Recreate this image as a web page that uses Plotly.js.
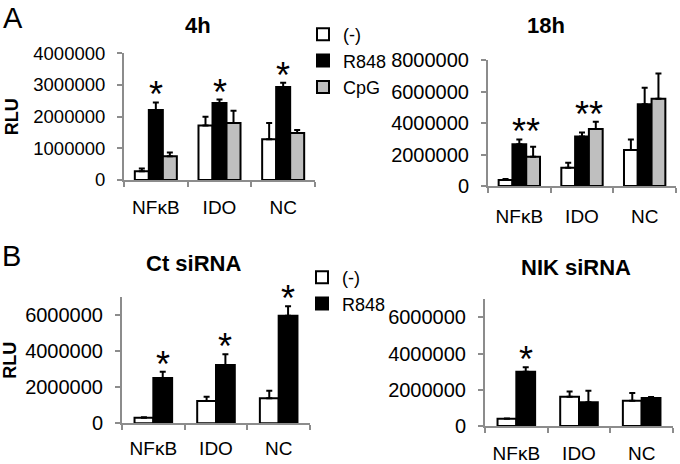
<!DOCTYPE html>
<html><head><meta charset="utf-8">
<script src="https://cdn.plot.ly/plotly-3.0.1.min.js"></script>
<style>html,body{margin:0;padding:0;background:#fff}#chart{width:680px;height:464px}</style>
</head><body><div id="chart"></div>
<script>
// ---------- data ----------
const categories = ['NFκB', 'IDO', 'NC'];
const seriesA = ['(-)', 'R848', 'CpG'];
const seriesB = ['(-)', 'R848'];
const panelTitles = ['4h', '18h', 'Ct siRNA', 'NIK siRNA'];
const yTitle = 'RLU';

// Panel A, 4h
const h4_none = [280000, 1720000, 1290000];
const h4_none_err = [80000, 280000, 510000];
const h4_r848 = [2210000, 2430000, 2940000];
const h4_r848_err = [240000, 110000, 130000];
const h4_cpg = [750000, 1800000, 1480000];
const h4_cpg_err = [120000, 390000, 100000];
const h4_r848_sig = [1, 1, 1];
const h4_cpg_sig = [0, 0, 0];

// Panel A, 18h
const h18_none = [380000, 1160000, 2290000];
const h18_none_err = [60000, 320000, 670000];
const h18_r848 = [2650000, 3150000, 5190000];
const h18_r848_err = [310000, 240000, 1050000];
const h18_cpg = [1860000, 3620000, 5540000];
const h18_cpg_err = [640000, 460000, 1610000];
const h18_r848_sig = [1, 1, 0];
const h18_cpg_sig = [1, 1, 0];

// Panel B, Ct siRNA
const ct_none = [310000, 1240000, 1390000];
const ct_none_err = [20000, 240000, 420000];
const ct_r848 = [2520000, 3240000, 5980000];
const ct_r848_err = [350000, 590000, 520000];
const ct_r848_sig = [1, 1, 1];

// Panel B, NIK siRNA
const nik_none = [400000, 1620000, 1400000];
const nik_none_err = [20000, 290000, 420000];
const nik_r848 = [3000000, 1310000, 1550000];
const nik_r848_err = [240000, 640000, 50000];
const nik_r848_sig = [1, 0, 0];

// ---------- styling ----------
const FONT = 'Liberation Sans, Arial, Helvetica, sans-serif';
const AXC = '#8c8c8c';
const fills = {'(-)': '#ffffff', 'R848': '#000000', 'CpG': '#bfbfbf'};
const W3 = 0.22, W2 = 0.30;

function bar(name, vals, errs, xa, ya, offset, width, showlegend, legend) {
  return {
    type: 'bar', name: name, x: categories, y: vals,
    xaxis: xa, yaxis: ya, offset: offset, width: width,
    marker: {color: fills[name], line: {color: '#000', width: 2}},
    error_y: {type: 'data', array: errs, arrayminus: errs.map(() => 0), symmetric: false,
              color: '#000', thickness: 2, width: 3},
    showlegend: showlegend, legend: legend, hoverinfo: 'skip'
  };
}

const data = [
  bar(seriesA[0], h4_none, h4_none_err, 'x', 'y', -1.5 * W3, W3, true, 'legend'),
  bar(seriesA[1], h4_r848, h4_r848_err, 'x', 'y', -0.5 * W3, W3, true, 'legend'),
  bar(seriesA[2], h4_cpg, h4_cpg_err, 'x', 'y', 0.5 * W3, W3, true, 'legend'),
  bar(seriesA[0], h18_none, h18_none_err, 'x2', 'y2', -1.5 * W3, W3, false, 'legend'),
  bar(seriesA[1], h18_r848, h18_r848_err, 'x2', 'y2', -0.5 * W3, W3, false, 'legend'),
  bar(seriesA[2], h18_cpg, h18_cpg_err, 'x2', 'y2', 0.5 * W3, W3, false, 'legend'),
  bar(seriesB[0], ct_none, ct_none_err, 'x3', 'y3', -W2, W2, true, 'legend2'),
  bar(seriesB[1], ct_r848, ct_r848_err, 'x3', 'y3', 0, W2, true, 'legend2'),
  bar(seriesB[0], nik_none, nik_none_err, 'x4', 'y4', -W2, W2, false, 'legend2'),
  bar(seriesB[1], nik_r848, nik_r848_err, 'x4', 'y4', 0, W2, false, 'legend2')
];

// asterisks
const annotations = [];
function stars(xa, ya, groups) {
  categories.forEach((c, i) => {
    let top = -Infinity;
    groups.forEach(g => { if (g.sig[i]) top = Math.max(top, g.vals[i] + g.errs[i]); });
    groups.forEach(g => {
      if (!g.sig[i]) return;
      annotations.push({xref: xa, yref: ya, x: i + g.center, y: top, text: '*',
        showarrow: false, xanchor: 'center', yanchor: 'bottom', yshift: -15,
        font: {family: FONT, size: 36, color: '#000'}});
    });
  });
}
stars('x', 'y', [{vals: h4_r848, errs: h4_r848_err, sig: h4_r848_sig, center: 0},
                 {vals: h4_cpg, errs: h4_cpg_err, sig: h4_cpg_sig, center: W3}]);
stars('x2', 'y2', [{vals: h18_r848, errs: h18_r848_err, sig: h18_r848_sig, center: 0},
                   {vals: h18_cpg, errs: h18_cpg_err, sig: h18_cpg_sig, center: W3}]);
stars('x3', 'y3', [{vals: ct_r848, errs: ct_r848_err, sig: ct_r848_sig, center: W2 / 2}]);
stars('x4', 'y4', [{vals: nik_r848, errs: nik_r848_err, sig: nik_r848_sig, center: W2 / 2}]);

function title(text, x, y) {
  annotations.push({xref: 'paper', yref: 'paper', x: x, y: y, text: text, showarrow: false,
    xanchor: 'center', yanchor: 'middle', font: {family: FONT, size: 22, color: '#000', weight: 'bold'}});
}
title(panelTitles[0], 198 / 680, 1 - 25 / 464);
title(panelTitles[1], 546 / 680, 1 - 25 / 464);
title(panelTitles[2], 193 / 680, 1 - 263 / 464);
title(panelTitles[3], 576 / 680, 1 - 267 / 464);
function letter(text, x, y, anchor) {
  annotations.push({xref: 'paper', yref: 'paper', x: x, y: y, text: text, showarrow: false,
    xanchor: 'center', yanchor: anchor, font: {family: FONT, size: 29, color: '#000'}});
}
letter('A', 12.5 / 680, 1, 'top');
letter('B', 11 / 680, 1 - 256 / 464, 'middle');

function xax(domain, anchor, fs, standoff) {
  return {domain: domain, anchor: anchor, type: 'category', range: [-0.5, 2.5],
    showline: true, linecolor: AXC, linewidth: 2, showgrid: false, zeroline: false,
    ticks: 'outside', tickson: 'boundaries', ticklen: 5, tickcolor: AXC, tickwidth: 2,
    ticklabelstandoff: standoff, tickfont: {family: FONT, size: fs, color: '#000'}, fixedrange: true};
}
function yax(domain, anchor, max, dtick, fs, withTitle) {
  const a = {domain: domain, anchor: anchor, range: [0, max], dtick: dtick, tick0: 0,
    tickformat: 'd', showline: true, linecolor: AXC, linewidth: 2, showgrid: false, zeroline: false,
    ticks: 'outside', ticklen: 5, tickcolor: AXC, tickwidth: 2, ticklabelstandoff: 8,
    tickfont: {family: FONT, size: fs, color: '#000'}, fixedrange: true, automargin: false};
  if (withTitle) a.title = {text: yTitle, standoff: 10, font: {family: FONT, size: 18, weight: 'bold', color: '#000'}};
  return a;
}

const layout = {
  width: 680, height: 464, margin: {l: 0, r: 0, t: 0, b: 0},
  paper_bgcolor: '#fff', plot_bgcolor: 'rgba(0,0,0,0)', barmode: 'overlay',
  font: {family: FONT, color: '#000'},
  xaxis: xax([124 / 680, 315 / 680], 'y', 19, 9),
  yaxis: yax([1 - 180 / 464, 1 - 53.3 / 464], 'x', 4000000, 1000000, 18.5, true),
  xaxis2: xax([488 / 680, 676 / 680], 'y2', 19, 12),
  yaxis2: yax([1 - 186 / 464, 1 - 60 / 464], 'x2', 8000000, 2000000, 20, false),
  xaxis3: xax([122 / 680, 310 / 680], 'y3', 19, 7),
  yaxis3: yax([1 - 423.3 / 464, 1 - 297.3 / 464], 'x3', 7000000, 2000000, 20, true),
  xaxis4: xax([485 / 680, 673 / 680], 'y4', 19, 9),
  yaxis4: yax([1 - 426 / 464, 1 - 299.3 / 464], 'x4', 7000000, 2000000, 20, false),
  legend: {x: 303 / 680, y: 1 - 16 / 464, xanchor: 'left', yanchor: 'top', bgcolor: 'rgba(0,0,0,0)',
    font: {family: FONT, size: 18, color: '#000'}, tracegroupgap: 0},
  legend2: {x: 302 / 680, y: 1 - 259 / 464, xanchor: 'left', yanchor: 'top', bgcolor: 'rgba(0,0,0,0)',
    font: {family: FONT, size: 18, color: '#000'}, tracegroupgap: 0},
  annotations: annotations
};

Plotly.newPlot('chart', data, layout, {displayModeBar: false, staticPlot: true});
</script>
</body></html>
